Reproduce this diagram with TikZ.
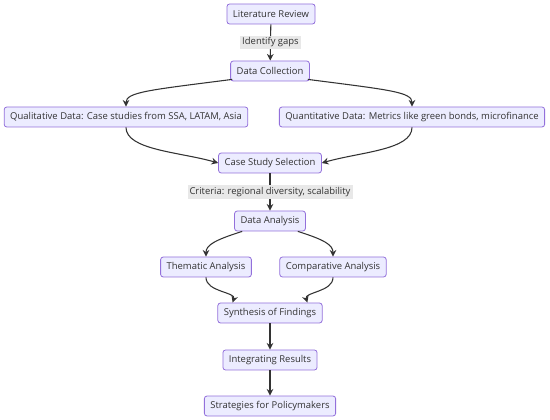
\documentclass[tikz,border=0pt]{standalone}
\usepackage{fontspec}
\setmainfont{Open Sans}
\usetikzlibrary{arrows.meta}
\definecolor{boxfill}{HTML}{ECECFF}
\definecolor{boxline}{HTML}{9370DB}
\definecolor{edgecol}{HTML}{333333}
\definecolor{labelbg}{HTML}{E8E8E8}
\definecolor{textcol}{HTML}{333333}

\begin{document}
\begin{tikzpicture}[x=0.75pt, y=-0.75pt,
	stepbox/.style={draw=boxline, fill=boxfill, rounded corners=2pt, line width=0.6pt,
		text=textcol, font=\fontsize{7.1}{8.5}\selectfont, minimum height=15pt, inner xsep=4.5pt},
	edgelabel/.style={fill=labelbg, text=textcol, font=\fontsize{7.1}{8.5}\selectfont, inner sep=1.5pt},
	flow/.style={draw=edgecol, line width=0.8pt, -{Stealth[length=5pt,width=5pt]}}]
	%%%%% START %%%%%
	
	\useasboundingbox (0, 0) rectangle (550, 420);
	
	\node[stepbox] (litreview) at (271, 14) {Literature Review};
	\node[stepbox] (datacoll) at (270, 71) {Data Collection};
	\node[stepbox] (qualdata) at (126, 117) {Qualitative Data: Case studies from SSA, LATAM, Asia};
	\node[stepbox] (quantdata) at (412, 117) {Quantitative Data: Metrics like green bonds, microfinance};
	\node[stepbox] (casesel) at (270, 163) {Case Study Selection};
	\node[stepbox] (analysis) at (270, 221) {Data Analysis};
	\node[stepbox] (thematic) at (206, 267) {Thematic Analysis};
	\node[stepbox] (comparative) at (333, 267) {Comparative Analysis};
	\node[stepbox] (synthesis) at (270, 313) {Synthesis of Findings};
	\node[stepbox] (integrating) at (270, 360) {Integrating Results};
	\node[stepbox] (strategies) at (270, 406) {Strategies for Policymakers};
	
	\draw[flow] (litreview) -- node[edgelabel] {Identify gaps} (datacoll);
	
	\draw[flow] (datacoll.south west) ++(2, -2) coordinate (dcl)
		(dcl) .. controls (150, 90) and (126, 92) .. (qualdata.north);
	\draw[flow] (datacoll.south east) ++(-2, -2) coordinate (dcr)
		(dcr) .. controls (390, 90) and (412, 92) .. (quantdata.north);
	
	\draw[flow] (qualdata.south) .. controls (126, 150) and (180, 152) .. (casesel.west);
	\draw[flow] (quantdata.south) .. controls (412, 150) and (360, 152) .. (casesel.east);
	
	\draw[flow] (casesel) -- node[edgelabel] {Criteria: regional diversity, scalability} (analysis);
	
	\draw[flow] (analysis.south west) ++(8, 0) coordinate (dal)
		(dal) .. controls (215, 240) and (206, 245) .. (thematic.north);
	\draw[flow] (analysis.south east) ++(-8, 0) coordinate (dar)
		(dar) .. controls (325, 240) and (333, 245) .. (comparative.north);
	
	\draw[flow] (thematic.south) .. controls (206, 292) and (236, 292) .. ([xshift=-28]synthesis.north);
	\draw[flow] (comparative.south) .. controls (333, 292) and (304, 292) .. ([xshift=28]synthesis.north);
	
	\draw[flow] (synthesis) -- (integrating);
	\draw[flow] (integrating) -- (strategies);
	
	%%%%% END %%%%%
\end{tikzpicture}
\end{document}
